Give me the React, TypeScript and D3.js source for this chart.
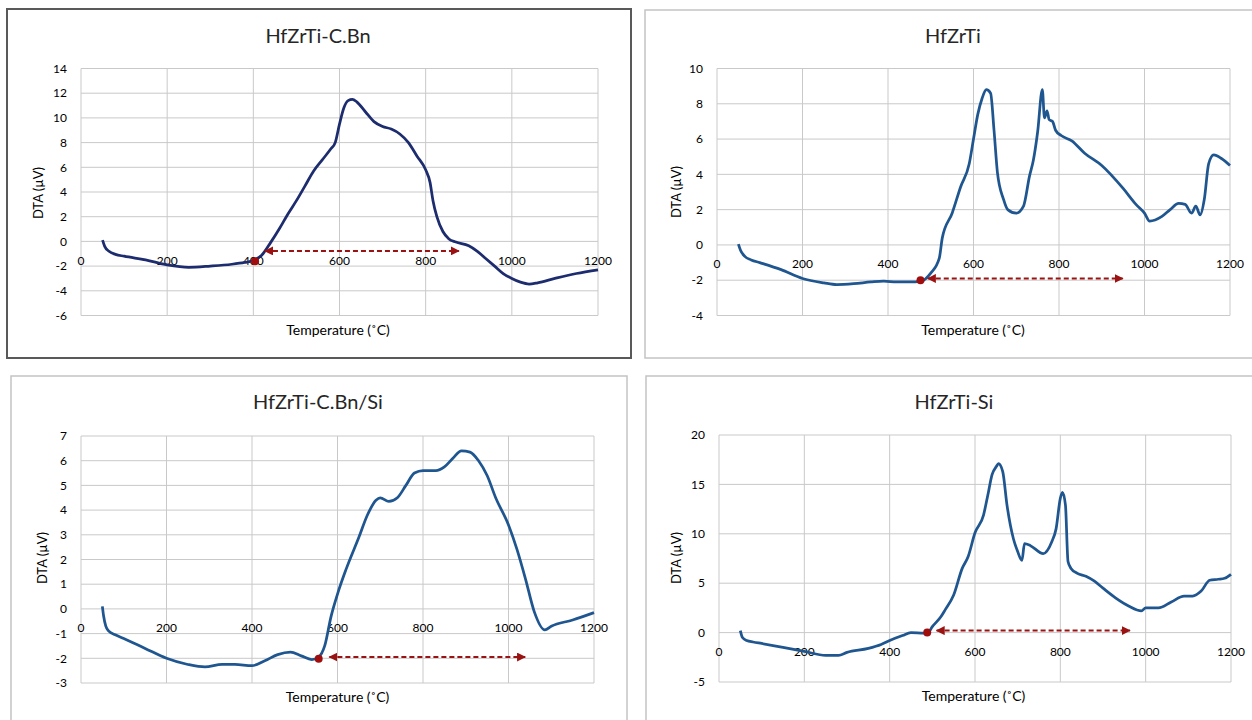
import React from 'react';
import * as d3 from 'd3';

// shared x ticks (°C)
const xTicks = [0, 200, 400, 600, 800, 1000, 1200];

// HfZrTi-C.Bn
const temps1 = [50, 55, 65, 80, 100, 150, 200, 250, 300, 350, 380, 400, 420, 440, 460, 480, 500, 520, 540, 560, 580, 590, 600, 610, 620, 630, 640, 660, 680, 700, 720, 740, 760, 780, 800, 810, 817, 826, 840, 854, 870, 900, 920, 940, 960, 980, 1000, 1020, 1040, 1060, 1100, 1150, 1200];
const dta1 = [0.1, -0.4, -0.8, -1.05, -1.2, -1.5, -1.9, -2.1, -2.0, -1.85, -1.7, -1.55, -1.1, -0.1, 1.0, 2.2, 3.3, 4.5, 5.7, 6.6, 7.5, 8.0, 9.5, 10.8, 11.4, 11.5, 11.3, 10.5, 9.7, 9.3, 9.1, 8.7, 8.0, 6.9, 5.8, 4.8, 3.3, 2.0, 0.8, 0.2, -0.05, -0.35, -0.8, -1.4, -2.0, -2.6, -3.0, -3.3, -3.45, -3.35, -3.0, -2.6, -2.3];
const yTicks1 = [-6, -4, -2, 0, 2, 4, 6, 8, 10, 12, 14];
const onset1 = [404, -1.6];
const span1 = [427, 877, -0.77];

// HfZrTi
const temps2 = [50, 55, 65, 80, 100, 150, 200, 250, 280, 320, 360, 390, 420, 450, 478, 500, 520, 527, 550, 570, 590, 600, 610, 620, 630, 640, 648, 656, 670, 680, 700, 717, 731, 740, 750, 761, 766, 772, 777, 785, 792, 805, 830, 860, 900, 950, 980, 1000, 1012, 1040, 1060, 1080, 1095, 1110, 1120, 1130, 1140, 1150, 1162, 1180, 1200];
const dta2 = [0.05, -0.3, -0.65, -0.85, -1.0, -1.4, -1.9, -2.15, -2.25, -2.2, -2.1, -2.05, -2.1, -2.1, -2.05, -1.6, -0.75, 0.4, 1.8, 3.3, 4.6, 6.0, 7.4, 8.3, 8.8, 8.6, 6.5, 4.1, 2.6, 2.0, 1.8, 2.2, 3.9, 4.8, 6.4, 8.8, 7.2, 7.6, 7.1, 7.0, 6.5, 6.2, 5.9, 5.2, 4.5, 3.2, 2.3, 1.8, 1.35, 1.6, 2.0, 2.35, 2.3, 1.8, 2.2, 1.7, 2.6, 4.6, 5.1, 4.9, 4.5];
const yTicks2 = [-4, -2, 0, 2, 4, 6, 8, 10];
const onset2 = [476, -2.0];
const span2 = [493, 949, -1.9];

// HfZrTi-C.Bn/Si
const temps3 = [50, 53, 58, 65, 80, 100, 150, 200, 250, 290, 330, 360, 400, 430, 460, 490, 515, 540, 556, 570, 585, 600, 620, 650, 670, 690, 700, 720, 740, 760, 780, 800, 830, 850, 870, 890, 910, 930, 950, 970, 1000, 1020, 1040, 1060, 1085, 1100, 1150, 1200];
const dta3 = [0.1, -0.3, -0.7, -0.9, -1.05, -1.2, -1.6, -2.0, -2.25, -2.35, -2.25, -2.25, -2.3, -2.1, -1.85, -1.75, -1.9, -2.05, -1.95, -1.5, -0.3, 0.6, 1.6, 2.9, 3.8, 4.4, 4.5, 4.35, 4.5, 5.0, 5.5, 5.6, 5.6, 5.75, 6.1, 6.4, 6.35, 6.0, 5.4, 4.5, 3.4, 2.4, 1.2, -0.1, -0.85, -0.7, -0.45, -0.15];
const yTicks3 = [-3, -2, -1, 0, 1, 2, 3, 4, 5, 6, 7];
const onset3 = [556, -2.02];
const span3 = [581, 1039, -1.95];

// HfZrTi-Si
const temps4 = [50, 55, 65, 80, 100, 150, 200, 250, 280, 300, 350, 380, 400, 430, 450, 480, 490, 500, 520, 530, 550, 570, 584, 600, 620, 630, 640, 650, 655, 665, 675, 690, 700, 710, 716, 730, 760, 780, 790, 800, 805, 812, 818, 825, 840, 860, 880, 900, 930, 960, 990, 1000, 1030, 1060, 1090, 1110, 1130, 1150, 1170, 1185, 1200];
const dta4 = [0.2, -0.5, -0.8, -0.95, -1.1, -1.5, -1.9, -2.3, -2.3, -2.0, -1.6, -1.2, -0.8, -0.3, 0, -0.05, 0, 0.6, 1.6, 2.3, 3.8, 6.5, 7.7, 10.1, 11.9, 13.9, 16.0, 16.8, 17.1, 16.3, 12.9, 9.5, 8.2, 7.3, 9.0, 8.8, 8.0, 9.2, 10.5, 13.6, 14.2, 12.9, 7.2, 6.5, 6.0, 5.7, 5.2, 4.5, 3.5, 2.7, 2.2, 2.5, 2.5, 3.1, 3.7, 3.7, 4.2, 5.3, 5.4, 5.5, 5.9];
const yTicks4 = [-5, 0, 5, 10, 15, 20];
const onset4 = [488, 0];
const span4 = [510, 963, 0.2];

const FONT = "Lato, Carlito, 'Open Sans', sans-serif";
const RED = '#9b1212';

const panels = [
  {
    id: 'p1', title: 'HfZrTi-C.Bn', temps: temps1, dta: dta1, yTicks: yTicks1, onset: onset1, span: span1,
    color: '#1c2c6e', box: [7, 9, 624, 349], border: '#595959', bw: 2,
    plot: [81, 598, 68.5, 315.5], titleAt: [318, 36], yTitleAt: [38.5, 193], xTitleAt: [338, 330],
  },
  {
    id: 'p2', title: 'HfZrTi', temps: temps2, dta: dta2, yTicks: yTicks2, onset: onset2, span: span2,
    color: '#1f5690', box: [645, 10, 612, 348], border: '#c4c4c4', bw: 1.5,
    plot: [717, 1230, 68.5, 315.5], titleAt: [953, 36], yTitleAt: [676.5, 192], xTitleAt: [973, 330],
  },
  {
    id: 'p3', title: 'HfZrTi-C.Bn/Si', temps: temps3, dta: dta3, yTicks: yTicks3, onset: onset3, span: span3,
    color: '#1f5690', box: [11, 376, 616, 360], border: '#c4c4c4', bw: 1.5,
    plot: [81, 594, 436, 683], titleAt: [318, 402], yTitleAt: [42, 558], xTitleAt: [337.5, 697],
  },
  {
    id: 'p4', title: 'HfZrTi-Si', temps: temps4, dta: dta4, yTicks: yTicks4, onset: onset4, span: span4,
    color: '#1f5690', box: [646, 376, 612, 360], border: '#c4c4c4', bw: 1.5,
    plot: [719, 1231, 435, 682], titleAt: [954, 402], yTitleAt: [676.5, 558], xTitleAt: [973.5, 696],
  },
];

const Panel = ({ p }: { p: any }) => {
  const [px0, px1, py0, py1] = p.plot;
  const x = d3.scaleLinear().domain([0, 1200]).range([px0, px1]);
  const y = d3.scaleLinear().domain([p.yTicks[0], p.yTicks[p.yTicks.length - 1]]).range([py1, py0]);
  const pts: [number, number][] = p.temps.map((t: number, i: number) => [t, p.dta[i]]);
  const path = d3.line<[number, number]>()
    .x(d => x(d[0]))
    .y(d => y(d[1]))
    .curve(d3.curveMonotoneX)(pts);

  return (
    <g>
      <rect x={p.box[0]} y={p.box[1]} width={p.box[2]} height={p.box[3]}
        fill="#fff" stroke={p.border} strokeWidth={p.bw} />

      {/* grid */}
      {p.yTicks.map((v: number) => (
        <line key={'gy' + v} x1={px0} x2={px1} y1={y(v)} y2={y(v)} stroke="#c9c9c9" strokeWidth={1} />
      ))}
      {xTicks.map(v => (
        <line key={'gx' + v} x1={x(v)} x2={x(v)} y1={py0} y2={py1} stroke="#c9c9c9" strokeWidth={1} />
      ))}

      {/* tick labels */}
      {p.yTicks.map((v: number) => (
        <text key={'ty' + v} x={px0 - 14} y={y(v)} dy="0.35em" textAnchor="end"
          fontSize={12} fontFamily={FONT} fill="#000">{v}</text>
      ))}
      {xTicks.map(v => (
        <text key={'tx' + v} x={x(v)} y={y(0) + 19} dy="0.35em" textAnchor="middle"
          fontSize={12} fontFamily={FONT} fill="#000">{v}</text>
      ))}

      <path d={path || ''} fill="none" stroke={p.color} strokeWidth={2.75} strokeLinejoin="round" />

      {/* onset + reaction span */}
      <line x1={x(p.span[0])} x2={x(p.span[1])} y1={y(p.span[2])} y2={y(p.span[2])}
        stroke={RED} strokeWidth={2} strokeDasharray="5,3"
        markerStart="url(#arrowHead)" markerEnd="url(#arrowHead)" />
      <circle cx={x(p.onset[0])} cy={y(p.onset[1])} r={4} fill="#a00d0d" />

      {/* titles */}
      <text x={p.titleAt[0]} y={p.titleAt[1]} dy="0.35em" textAnchor="middle"
        fontSize={20} fontFamily={FONT} fill="#262626">{p.title}</text>
      <text transform={`translate(${p.yTitleAt[0]},${p.yTitleAt[1]}) rotate(-90)`} dy="0.35em"
        textAnchor="middle" fontSize={13} fontFamily={FONT} fill="#000">DTA (µV)</text>
      <text x={p.xTitleAt[0]} y={p.xTitleAt[1]} dy="0.35em" textAnchor="middle"
        fontSize={14} fontFamily={FONT} fill="#000">Temperature (˚C)</text>
    </g>
  );
};

export default function App() {
  return (
    <svg width={1252} height={720} style={{ position: 'absolute', left: 0, top: 0, background: '#fff' }}>
      <defs>
        <marker id="arrowHead" viewBox="0 0 10 10" refX={9} refY={5} markerWidth={4.5} markerHeight={4.5}
          markerUnits="strokeWidth" orient="auto-start-reverse">
          <path d="M0,0 L10,5 L0,10 Z" fill={RED} />
        </marker>
      </defs>
      {panels.map(p => <Panel key={p.id} p={p} />)}
    </svg>
  );
}
